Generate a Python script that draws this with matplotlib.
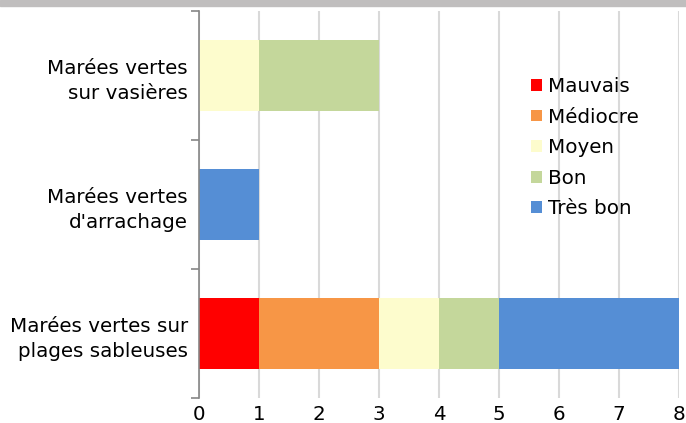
import numpy as np
import matplotlib.pyplot as plt
from matplotlib.patches import Rectangle

# Catégories (de bas en haut)
categories = ["Marées vertes sur\nplages sableuses", "Marées vertes\nd'arrachage", "Marées vertes\nsur vasières"]
series = ["Mauvais", "Médiocre", "Moyen", "Bon", "Très bon"]
mauvais = [1, 0, 0]
mediocre = [2, 0, 0]
moyen = [1, 0, 1]
bon = [1, 0, 2]
tres_bon = [3, 1, 0]
couleurs = ["#FF0000", "#F79646", "#FDFCCD", "#C4D79B", "#558ED5"]

valeurs = [mauvais, mediocre, moyen, bon, tres_bon]

fig = plt.figure(figsize=(6.86, 4.23), dpi=100)
ax = fig.add_axes([199 / 686, 25 / 423, 480 / 686, 387 / 423])

# bande grise en haut
fig.patches.append(Rectangle((0, 1 - 6 / 423), 1, 6 / 423, transform=fig.transFigure,
                             color="#C0BEBE", zorder=0))

y = np.arange(len(categories))
gauche = np.zeros(len(categories))
for nom, vals, c in zip(series, valeurs, couleurs):
    vals = np.array(vals, dtype=float)
    ax.barh(y, vals, left=gauche, height=0.545, color=c, label=nom, zorder=3)
    gauche += vals

ax.set_xlim(0, 8)
ax.set_ylim(-0.5, 2.5)
ax.set_xticks(range(0, 9))
ax.set_yticks(y)
ax.set_yticklabels(categories, fontsize=14.3, ha="right", linespacing=1.45)
ax.tick_params(axis="y", length=0, pad=8)
ax.tick_params(axis="x", length=0, labelsize=14.3, pad=5)

# petits traits entre catégories
ax.set_yticks([-0.5, 0.5, 1.5, 2.5], minor=True)
ax.tick_params(axis="y", which="minor", length=6, color="#868686", width=1.2)

ax.grid(True, axis="x", color="#D9D9D9", linewidth=1.5, zorder=0)
for s in ["top", "right", "bottom"]:
    ax.spines[s].set_visible(False)
ax.spines["left"].set_color("#868686")
ax.spines["left"].set_linewidth(1.2)
ax.spines["left"].set_zorder(4)

ax.legend(loc="upper left", bbox_to_anchor=(0.675, 0.85), frameon=False, fontsize=14.3,
          handlelength=0.55, handleheight=0.55, handletextpad=0.3, labelspacing=0.58,
          borderaxespad=0)

fig.savefig("out.png", dpi=100)
